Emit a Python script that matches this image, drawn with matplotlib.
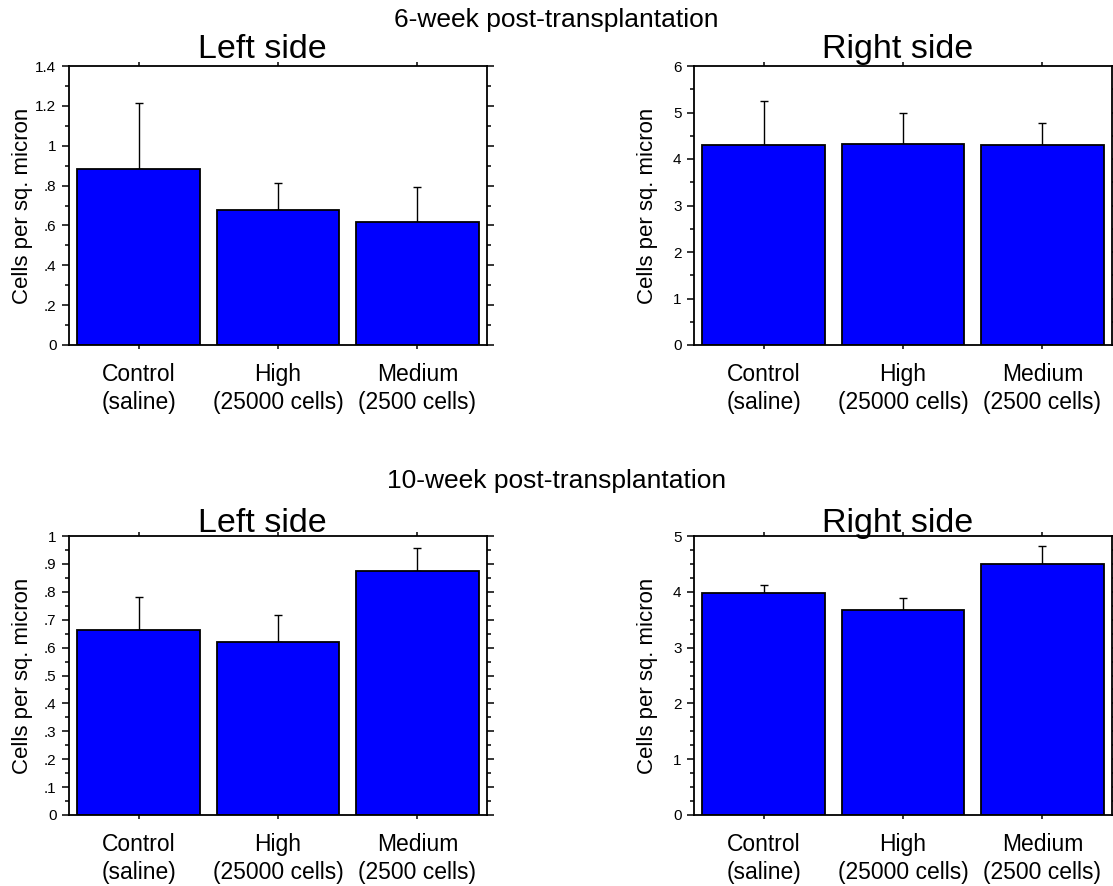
import numpy as np
import matplotlib
matplotlib.use("Agg")
import matplotlib.pyplot as plt
from matplotlib.ticker import MultipleLocator, FuncFormatter

plt.rcParams['font.family'] = ['Liberation Sans', 'DejaVu Sans']

########################################
# DATA
########################################
groups = ["Control\n(saline)", "High\n(25000 cells)", "Medium\n(2500 cells)"]

wk6_left = [0.882, 0.678, 0.618]
wk6_left_err = [0.334, 0.137, 0.175]
wk6_right = [4.31, 4.33, 4.31]
wk6_right_err = [0.93, 0.67, 0.47]

wk10_left = [0.662, 0.619, 0.873]
wk10_left_err = [0.118, 0.099, 0.085]
wk10_right = [3.98, 3.67, 4.50]
wk10_right_err = [0.14, 0.21, 0.32]

row_titles = ["6-week post-transplantation", "10-week post-transplantation"]
panel_titles = ["Left side", "Right side"]
ylabel = "Cells per sq. micron"

# (values, errors, ymax, major step, minor step)
panels = [
    [(wk6_left, wk6_left_err, 1.4, 0.2, 0.1), (wk6_right, wk6_right_err, 6, 1, 0.5)],
    [(wk10_left, wk10_left_err, 1.0, 0.1, 0.05), (wk10_right, wk10_right_err, 5, 1, 0.25)],
]


def fmt(v, pos):
    s = "%g" % round(v, 4)
    if s.startswith("0.") and s != "0":
        s = s[1:]
    return s


fig = plt.figure(figsize=(11.13, 8.86), dpi=100)

lefts = [69 / 1113, 694 / 1113]
tops = [66, 536]
title_pads = [5.8, 3.0]
title_x = [0.462, 0.488]
w = 418 / 1113
h = 279 / 886

for r in range(2):
    for c in range(2):
        vals, errs, ymax, major, minor = panels[r][c]
        ax = fig.add_axes([lefts[c], 1 - (tops[r] + 279) / 886, w, h])
        x = np.arange(len(groups))
        ax.bar(x, vals, width=0.88, color="#0000FF", edgecolor="black",
               linewidth=1.3, zorder=2)
        ax.errorbar(x, vals, yerr=[np.zeros(len(errs)), errs], fmt="none",
                    ecolor="black", elinewidth=1.0, capsize=2.6,
                    capthick=1.0, zorder=1)
        ax.set_xlim(-0.5, 2.5)
        ax.set_ylim(0, ymax)
        ax.set_xticks(x)
        ax.set_xticklabels(groups, fontsize=16.5, linespacing=1.28)
        ax.yaxis.set_major_locator(MultipleLocator(major))
        ax.yaxis.set_minor_locator(MultipleLocator(minor))
        ax.yaxis.set_major_formatter(FuncFormatter(fmt))
        ax.tick_params(axis="y", which="major", direction="out", length=5,
                       width=1.1, labelsize=11, pad=4, right=True)
        ax.tick_params(axis="y", which="minor", direction="out", length=3,
                       width=1.1, right=True)
        ax.tick_params(axis="x", which="major", direction="out", length=3,
                       width=1.1, pad=10, top=True)
        for sp in ax.spines.values():
            sp.set_linewidth(1.3)
        ax.set_ylabel(ylabel, fontsize=16)
        ax.yaxis.set_label_coords(-36 / 418, 0.5)
        ax.set_title(panel_titles[c], fontsize=24.5, pad=title_pads[r],
                     x=title_x[c])

fig.text(0.5, 1 - 20 / 886, row_titles[0], fontsize=19, ha="center", va="center")
fig.text(0.5, 1 - 481 / 886, row_titles[1], fontsize=19, ha="center", va="center")

plt.savefig("out.png", dpi=100)
plt.close()
